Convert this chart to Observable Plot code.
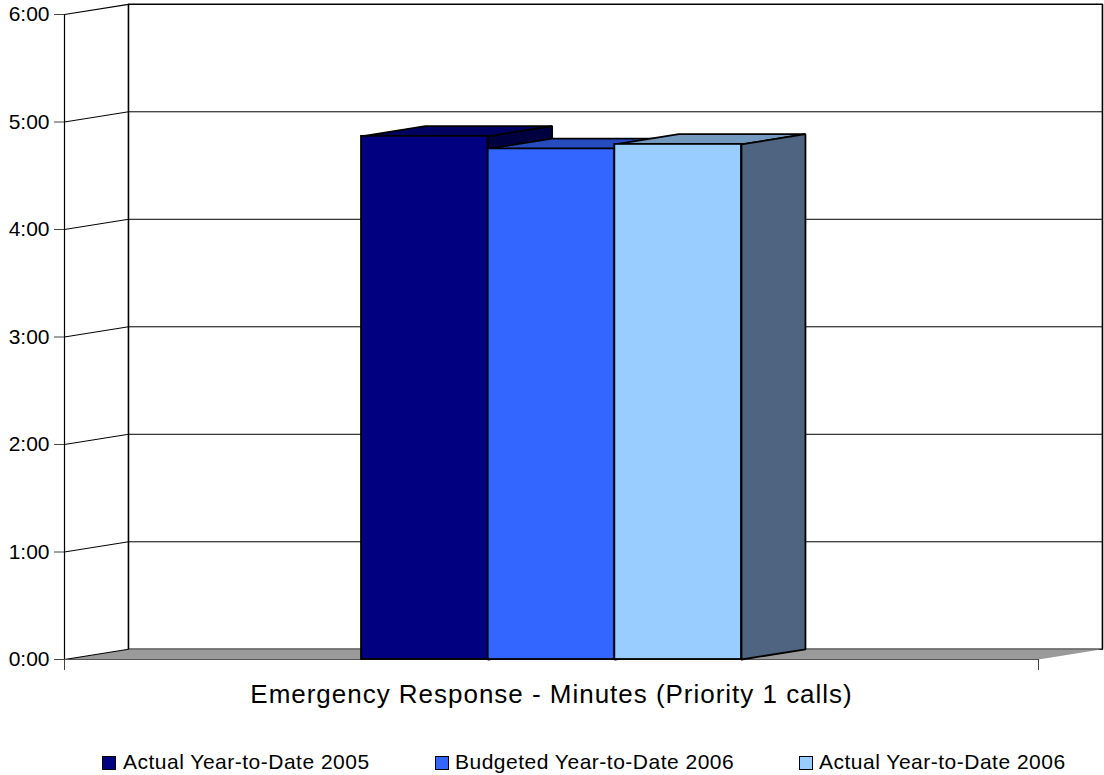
<!DOCTYPE html>
<html>
<head>
<meta charset="utf-8">
<script src="https://cdn.jsdelivr.net/npm/d3@7"></script>
<script src="https://cdn.jsdelivr.net/npm/@observablehq/plot@0.6"></script>
<style>
html,body{margin:0;padding:0;background:#fff}
#chart{position:relative;width:1104px;height:775px;overflow:hidden;font-family:"Liberation Sans",Arial,sans-serif}
#chart svg g[aria-label="text"] text{letter-spacing:.98px}
#legend{position:absolute;left:0;top:749px;width:1104px;height:26px}
.item{position:absolute;top:-1px;font-size:21px;line-height:27px;color:#000;white-space:nowrap;letter-spacing:.5px}
.swatch{position:absolute;top:7px;width:12px;height:12px;border:1px solid #000;box-sizing:content-box}
</style>
</head>
<body>
<div id="chart"><div id="legend"></div></div>
<script>
const categories = ["Actual Year-to-Date 2005", "Budgeted Year-to-Date 2006", "Actual Year-to-Date 2006"];
const responseSeconds = [292, 285, 287.5];
const frontColors = ["#000080", "#3366ff", "#99ccff"];
const topColors = ["#000060", "#264cbf", "#7399bf"];
const sideColors = ["#000040", "#1a3380", "#4f6480"];
const tickSeconds = [0, 60, 120, 180, 240, 300, 360];
const axisTitle = "Emergency Response - Minutes (Priority 1 calls)";
const legendTextX = [123, 455, 819];
const swatchX = [102, 435, 799];

// x is measured in bar widths (first bar starts at 0), y in seconds
const xMin = -2.345, xMax = 5.345;
const depthX = 0.505, depthY = 5.7;
const black = "#000";

const closed = pts => [...pts, pts[0]];
const poly = (pts, o) => Plot.line(closed(pts), {x: "0", y: "1", curve: "linear", strokeLinejoin: "miter", ...o});

const yTop = tickSeconds[tickSeconds.length - 1];
const floor = poly([[xMin, 0], [xMax, 0], [xMax + depthX, depthY], [xMin + depthX, depthY]],
  {fill: "#9a9a9a", stroke: "none"});
const wall = poly([[xMin + depthX, depthY], [xMax + depthX, depthY], [xMax + depthX, yTop + depthY], [xMin + depthX, yTop + depthY]],
  {fill: "#fff", stroke: black, strokeWidth: 1.6});
const grid = tickSeconds.slice(1, -1).map(t =>
  Plot.line([[xMin, t], [xMin + depthX, t + depthY], [xMax + depthX, t + depthY]],
    {x: "0", y: "1", stroke: black, strokeWidth: 1}));
const leftEdge = Plot.line([[xMin, 0], [xMin, yTop], [xMin + depthX, yTop + depthY]],
  {x: "0", y: "1", stroke: black, strokeWidth: 1.2});
const floorEdge = Plot.line([[xMin, 0], [xMin + depthX, depthY]], {x: "0", y: "1", stroke: black, strokeWidth: 1});
const frontEdge = Plot.line([[xMin, 0], [xMax, 0]], {x: "0", y: "1", stroke: "#555", strokeWidth: 1});

const bars = responseSeconds.flatMap((v, i) => [
  poly([[i, v], [i + 1, v], [i + 1 + depthX, v + depthY], [i + depthX, v + depthY]],
    {fill: topColors[i], stroke: black, strokeWidth: 1.8}),
  poly([[i + 1, 0], [i + 1 + depthX, depthY], [i + 1 + depthX, v + depthY], [i + 1, v]],
    {fill: sideColors[i], stroke: black, strokeWidth: 1.8}),
  Plot.rect([v], {x1: i, x2: i + 1, y1: 0, y2: d => d, fill: frontColors[i], stroke: black, strokeWidth: 1.8})
]);

const plot = Plot.plot({
  width: 1104,
  height: 720,
  marginLeft: 64,
  marginRight: 66,
  marginTop: 14,
  marginBottom: 61,
  style: {fontFamily: '"Liberation Sans", Arial, sans-serif', fontSize: "21px", color: "#000", background: "#fff", overflow: "visible"},
  x: {domain: [xMin, xMax], axis: null},
  y: {domain: [0, yTop], axis: null},
  marks: [
    wall,
    floor,
    ...grid,
    floorEdge,
    frontEdge,
    leftEdge,
    Plot.axisY({ticks: tickSeconds, tickFormat: s => `${s / 60}:00`, tickSize: 10, tickPadding: 5, label: null, stroke: "#444"}),
    Plot.axisX({ticks: [xMin, xMax], tickFormat: () => "", tickSize: 11, stroke: "#444", label: null}),
    Plot.text([axisTitle], {frameAnchor: "bottom", lineAnchor: "middle", dy: 35, fontSize: 26}),
    ...bars
  ]
});
const chart = document.getElementById("chart");
chart.insertBefore(plot, chart.firstChild);

const legend = document.getElementById("legend");
categories.forEach((c, i) => {
  const sw = document.createElement("span");
  sw.className = "swatch";
  sw.style.left = swatchX[i] + "px";
  sw.style.background = frontColors[i];
  legend.appendChild(sw);
  const t = document.createElement("span");
  t.className = "item";
  t.style.left = legendTextX[i] + "px";
  t.textContent = c;
  legend.appendChild(t);
});
</script>
</body>
</html>
